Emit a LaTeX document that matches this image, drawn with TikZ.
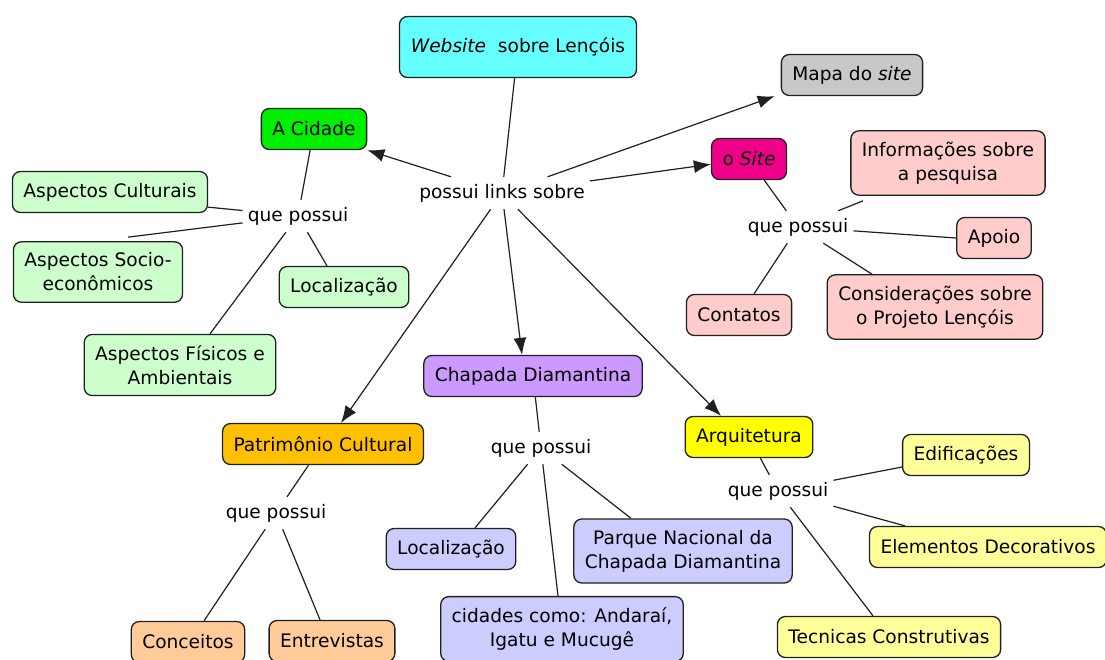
\documentclass[tikz,border=0pt]{standalone}
\usepackage{fontspec}
\setmainfont{DejaVu Sans}
\usetikzlibrary{arrows.meta}
\definecolor{cyanbox}{HTML}{66FFFF}
\definecolor{graybox}{HTML}{C8C8C8}
\definecolor{greenbox}{HTML}{00EE00}
\definecolor{lgreen}{HTML}{CCFFCC}
\definecolor{magbox}{HTML}{EE0088}
\definecolor{pinkbox}{HTML}{FFCCCC}
\definecolor{purplebox}{HTML}{CC99FF}
\definecolor{lavbox}{HTML}{CCCCFF}
\definecolor{orangebox}{HTML}{FFC000}
\definecolor{peachbox}{HTML}{FFCC99}
\definecolor{yellowbox}{HTML}{FFFF00}
\definecolor{lyellow}{HTML}{FFFF99}
\definecolor{edgegray}{HTML}{202020}
\tikzset{
  concept/.style={draw=edgegray, line width=1.3pt, rounded corners=8pt,
    inner xsep=11pt, inner ysep=11pt, minimum height=41pt, align=center,
    font=\fontsize{18.6}{24}\selectfont},
  linker/.style={inner xsep=5pt, inner ysep=7pt, font=\fontsize{18.6}{24}\selectfont},
  link/.style={line width=1.2pt, draw=edgegray},
  arrowlink/.style={link, -{Latex[length=17pt,width=13pt]}},
}
\begin{document}
\begin{tikzpicture}[x=1pt,y=-1pt]
\useasboundingbox (0,0) rectangle (1105,659);
\fill[white] (0,0) rectangle (1105,659);

% central concept and its linking phrase
\node[concept, fill=cyanbox, minimum width=237pt, minimum height=61pt] (web) at (518,47) {\textit{Website}~ sobre Lençóis};
\node[linker] (links) at (502,193) {possui links sobre};

% top level topics
\node[concept, fill=graybox] (mapa) at (852,75) {Mapa do \textit{site}};
\node[concept, fill=greenbox] (cidade) at (314,129) {A Cidade};
\node[concept, fill=magbox] (site) at (749,159) {o \textit{Site}};
\node[concept, fill=purplebox] (chapada) at (533,376) {Chapada Diamantina};
\node[concept, fill=orangebox] (patr) at (323,444) {Patrimônio Cultural};
\node[concept, fill=yellowbox] (arq) at (749,437) {Arquitetura};

% A Cidade
\node[linker] (qc) at (298,216) {que possui};
\node[concept, fill=lgreen] (cult) at (110,192) {Aspectos Culturais};
\node[concept, fill=lgreen] (socio) at (98,272) {Aspectos Socio-\\econômicos};
\node[concept, fill=lgreen] (locc) at (344,287) {Localização};
\node[concept, fill=lgreen] (fis) at (180,365) {Aspectos Físicos e\\Ambientais};

% o Site
\node[linker] (qs) at (798,227) {que possui};
\node[concept, fill=pinkbox] (info) at (948,163) {Informações sobre\\a pesquisa};
\node[concept, fill=pinkbox] (apoio) at (994,238) {Apoio};
\node[concept, fill=pinkbox] (cons) at (935,307) {Considerações sobre\\o Projeto Lençóis};
\node[concept, fill=pinkbox] (cont) at (739,315) {Contatos};

% Chapada Diamantina
\node[linker] (qch) at (541,448) {que possui};
\node[concept, fill=lavbox] (locch) at (451,549) {Localização};
\node[concept, fill=lavbox] (parque) at (683,551) {Parque Nacional da\\Chapada Diamantina};
\node[concept, fill=lavbox] (cid) at (562,629) {cidades como: Andaraí,\\Igatu e Mucugê};

% Patrimonio Cultural
\node[linker] (qp) at (276,513) {que possui};
\node[concept, fill=peachbox] (conc) at (188,642) {Conceitos};
\node[concept, fill=peachbox] (entr) at (332,641) {Entrevistas};

% Arquitetura
\node[linker] (qa) at (778,491) {que possui};
\node[concept, fill=lyellow] (edif) at (966,455) {Edificações};
\node[concept, fill=lyellow] (elem) at (988,547) {Elementos Decorativos};
\node[concept, fill=lyellow] (tec) at (889,637) {Tecnicas Construtivas};

% connectors from the central concept
\draw[link] (web) -- (links);
\draw[arrowlink] (links) -- (cidade.south east);
\draw[arrowlink] (links) -- ([xshift=-6pt]mapa.south west);
\draw[arrowlink] (links) -- (site);
\draw[arrowlink] (links) -- ([xshift=-11pt]chapada.north);
\draw[arrowlink] (links) -- ([xshift=18pt]patr.north);
\draw[arrowlink] (links) -- ([xshift=-28pt]arq.north);

% A Cidade
\draw[link] (cidade) -- (qc);
\draw[link] (qc) -- ([yshift=6pt]cult.south east);
\draw[link] (qc) -- ([xshift=30pt,yshift=4pt]socio.north);
\draw[link] (qc) -- ([xshift=-17pt]locc.north);
\draw[link] (qc) -- ([xshift=30pt]fis.north);

% o Site
\draw[link] (site) -- (qs);
\draw[link] (qs) -- ([xshift=-85pt,yshift=-5pt]info.south);
\draw[link] (qs) -- (apoio.west);
\draw[link] (qs) -- ([xshift=-63pt]cons.north);
\draw[link] (qs) -- ([xshift=15pt]cont.north);

% Chapada Diamantina
\draw[link] (chapada) -- (qch);
\draw[link] (qch) -- ([xshift=24pt]locch.north);
\draw[link] (qch) -- ([xshift=-4pt]cid.north);
\draw[link] (qch) -- ([xshift=-52pt]parque.north);

% Patrimonio Cultural
\draw[link] (patr) -- (qp);
\draw[link] (qp) -- ([xshift=16pt]conc.north);
\draw[link] (qp) -- ([xshift=-12pt]entr.north);

% Arquitetura
\draw[link] (arq) -- (qa);
\draw[link] (qa) -- ([yshift=-12pt]edif.west);
\draw[link] (qa) -- ([xshift=-83pt]elem.north);
\draw[link] (qa) -- ([xshift=-16pt]tec.north);
\end{tikzpicture}
\end{document}
